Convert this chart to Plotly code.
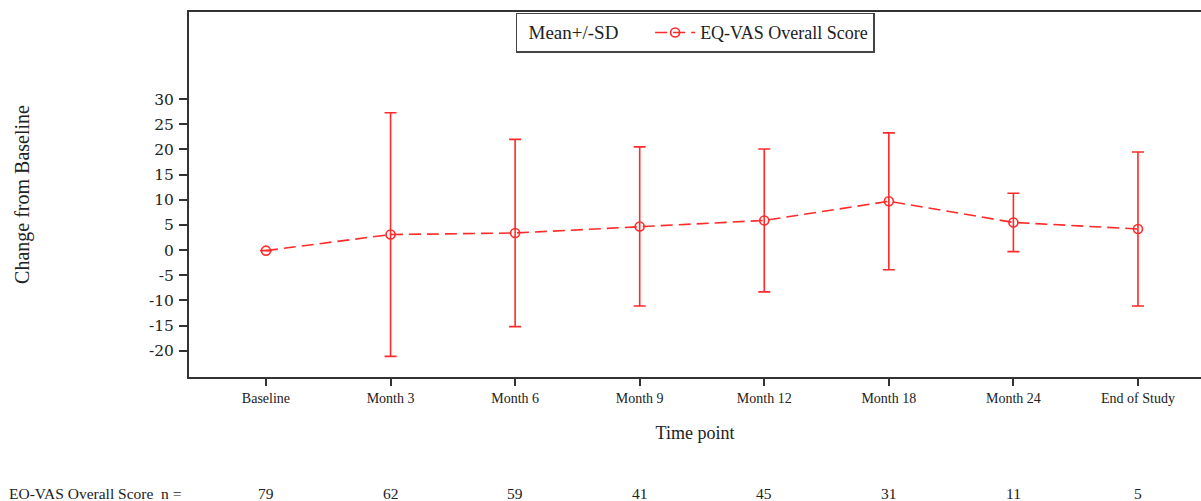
import plotly.graph_objects as go

categories = ["Baseline", "Month 3", "Month 6", "Month 9", "Month 12", "Month 18", "Month 24", "End of Study"]
mean_change = [-0.1, 3.1, 3.4, 4.7, 5.9, 9.7, 5.5, 4.2]
sd_change = [0.0, 24.2, 18.6, 15.8, 14.2, 13.6, 5.8, 15.3]
n_counts = [79, 62, 59, 41, 45, 31, 11, 5]
y_ticks = [-20, -15, -10, -5, 0, 5, 10, 15, 20, 25, 30]
y_tick_labels = ["-20", "-15", "-10", "-5", "0", "5", "10", "15", "20", "25", "30"]

RED = "#ff2a2a"
AXIS = "#333333"
SERIF = "Liberation Serif, Times New Roman, serif"

fig = go.Figure()
fig.add_trace(go.Scatter(
    x=categories, y=mean_change,
    mode="lines+markers",
    name="EQ-VAS Overall Score",
    line=dict(color=RED, width=1.6, dash="12px,6px"),
    marker=dict(symbol="circle-open", size=9, color=RED, line=dict(width=1.6, color=RED)),
    error_y=dict(type="data", array=sd_change, symmetric=True, color=RED, thickness=1.6, width=6),
))

annotations = [dict(
    x=0.0, xref="paper", xanchor="left", xshift=-182,
    y=-0.318, yref="paper", yanchor="middle",
    text="EO-VAS Overall Score  n =", showarrow=False,
    font=dict(family=SERIF, size=15.5, color="#222"),
)]
for c, n in zip(categories, n_counts):
    annotations.append(dict(
        x=c, xref="x", y=-0.318, yref="paper", yanchor="middle", xanchor="center",
        text=str(n), showarrow=False,
        font=dict(family=SERIF, size=15.5, color="#222"),
    ))

fig.update_layout(
    width=1201, height=501,
    margin=dict(l=189, r=0, t=12, b=124),
    paper_bgcolor="white", plot_bgcolor="white",
    showlegend=True,
    legend=dict(
        x=0.5, xanchor="center", y=0.998, yanchor="top",
        orientation="h",
        bordercolor="#444", borderwidth=1.5,
        bgcolor="white",
        font=dict(family=SERIF, size=18, color="#222"),
        title=dict(text="&nbsp;&nbsp;Mean+/-SD&nbsp;&nbsp;&nbsp;&nbsp;&nbsp;", side="left",
                   font=dict(family=SERIF, size=19, color="#222")),
        itemwidth=40,
    ),
    xaxis=dict(
        type="category",
        categoryorder="array", categoryarray=categories,
        range=[-0.618, 7.506],
        showline=True, linecolor=AXIS, linewidth=2, mirror=True,
        ticks="outside", ticklen=7, tickcolor=AXIS, tickwidth=1.5,
        showgrid=False, zeroline=False,
        tickfont=dict(family=SERIF, size=14, color="#222"),
        title=dict(text="Time point", font=dict(family=SERIF, size=18, color="#222"), standoff=22),
    ),
    yaxis=dict(
        range=[-25.2, 47.3],
        tickvals=y_ticks, ticktext=y_tick_labels,
        showline=True, linecolor=AXIS, linewidth=2, mirror=False,
        ticks="outside", ticklen=8, tickcolor=AXIS, tickwidth=1.5,
        ticklabelstandoff=2,
        showgrid=False, zeroline=False,
        tickfont=dict(family="DejaVu Serif, serif", size=15.5, color="#222"),
        title=dict(text="Change from Baseline", font=dict(family=SERIF, size=20, color="#222"), standoff=114),
    ),
    annotations=annotations,
)

fig.write_html("out.html")
